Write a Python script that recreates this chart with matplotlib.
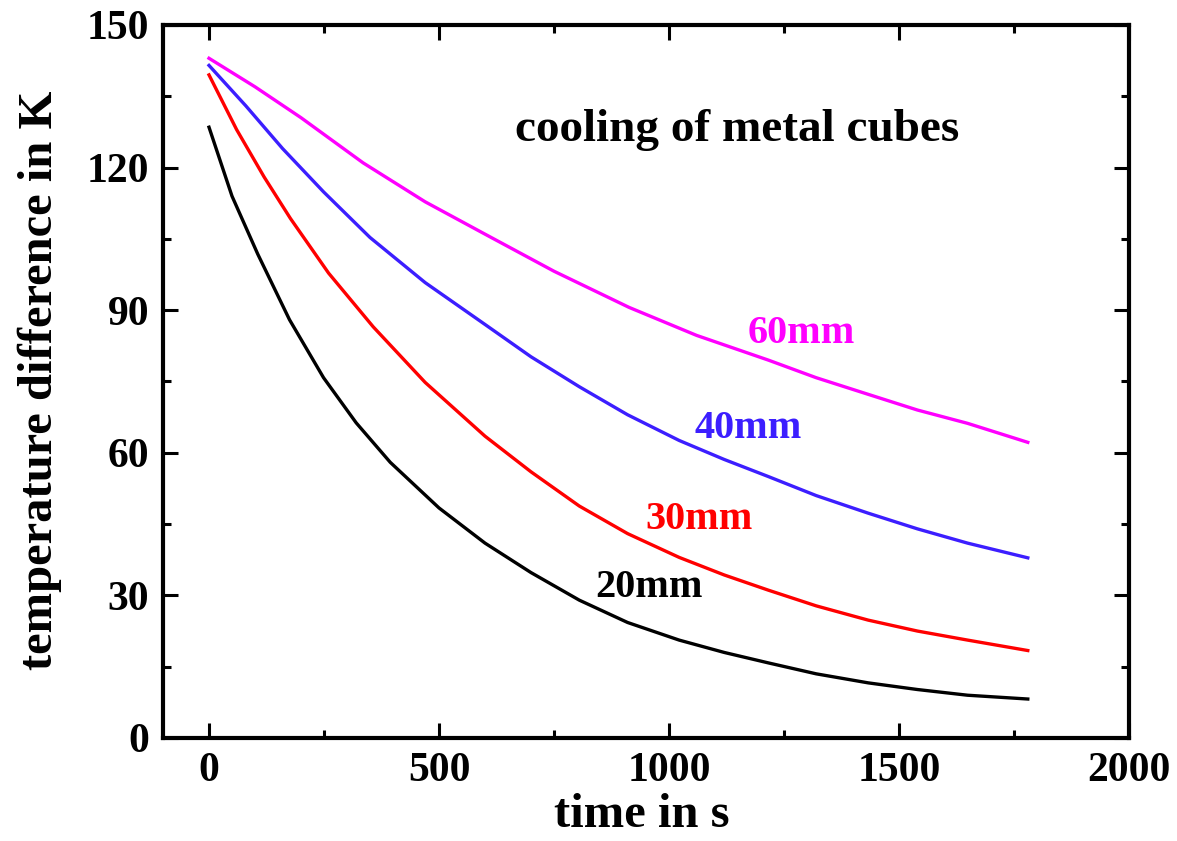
import numpy as np
import matplotlib
matplotlib.use("Agg")
import matplotlib.pyplot as plt
from matplotlib.ticker import MultipleLocator

# values (time in s, temperature difference in K)
t_20 = [0, 50, 106, 175, 249, 320, 394, 500, 600, 700, 805, 910, 1022,
        1120, 1216, 1320, 1433, 1540, 1649, 1780]
dT_20 = [128.5, 114.0, 101.8, 88.0, 75.8, 66.3, 58.0, 48.4, 41.0, 34.8,
         29.0, 24.3, 20.6, 18.0, 15.8, 13.5, 11.6, 10.2, 9.0, 8.2]

t_30 = [0, 60, 120, 177, 260, 357, 470, 600, 700, 805, 910, 1022, 1120,
        1216, 1320, 1433, 1540, 1649, 1780]
dT_30 = [139.5, 128.0, 118.0, 109.3, 97.8, 86.5, 74.8, 63.5, 56.0, 48.8,
         43.0, 38.0, 34.3, 31.1, 27.8, 24.8, 22.5, 20.6, 18.4]

t_40 = [0, 80, 160, 249, 350, 470, 600, 700, 805, 910, 1022, 1120, 1216,
        1320, 1433, 1540, 1649, 1780]
dT_40 = [141.5, 133.0, 124.0, 114.9, 105.3, 95.8, 87.0, 80.2, 73.9, 68.0,
         62.6, 58.6, 55.0, 51.0, 47.3, 44.0, 41.0, 37.9]

t_60 = [0, 100, 200, 335, 470, 600, 750, 913, 1060, 1216, 1320, 1433,
        1540, 1649, 1780]
dT_60 = [143.0, 137.0, 130.5, 121.0, 112.8, 106.0, 98.2, 90.6, 84.7, 79.5,
         75.8, 72.3, 69.0, 66.2, 62.2]

labels = ["20mm", "30mm", "40mm", "60mm"]
colors = ["black", "#ff0000", "#3c1eff", "#ff00ff"]
label_pos = [(957, 31.6), (1065, 45.9), (1173, 65.2), (1288, 85.2)]

plt.rcParams["font.family"] = ["Liberation Serif", "DejaVu Serif"]
plt.rcParams["font.weight"] = "bold"

fig = plt.figure(figsize=(11.77, 8.41), dpi=100)
ax = fig.add_axes([163 / 1177, 103 / 841, (1129 - 163) / 1177, (738 - 25) / 841])

series = [(t_20, dT_20), (t_30, dT_30), (t_40, dT_40), (t_60, dT_60)]
for (t, d), c in zip(series, colors):
    ax.plot(t, d, color=c, lw=2.4, solid_joinstyle="round")

for lab, c, (x, y) in zip(labels, colors, label_pos):
    ax.text(x, y, lab, color=c, fontsize=29, fontweight="bold",
            ha="center", va="center")

ax.text(1148, 128, "cooling of metal cubes", fontsize=34, fontweight="bold",
        ha="center", va="center")

ax.set_xlim(-100, 2000)
ax.set_ylim(0, 150)
ax.xaxis.set_major_locator(MultipleLocator(500))
ax.xaxis.set_minor_locator(MultipleLocator(250))
ax.yaxis.set_major_locator(MultipleLocator(30))
ax.yaxis.set_minor_locator(MultipleLocator(15))
ax.tick_params(which="both", direction="in", top=True, right=True, width=2.2)
ax.tick_params(which="major", length=11, labelsize=30, pad=10)
ax.tick_params(which="minor", length=6)
for lbl in ax.get_xticklabels() + ax.get_yticklabels():
    lbl.set_fontweight("bold")
for s in ax.spines.values():
    s.set_linewidth(3)

fig.text(40 / 1177, (841 - 380) / 841, "temperature difference in K",
         rotation=90, fontsize=35, fontweight="bold", ha="center", va="center")
fig.text(642 / 1177, 14 / 841, "time in s", fontsize=35, fontweight="bold",
         ha="center", va="baseline")

fig.savefig("out.png", dpi=100)
